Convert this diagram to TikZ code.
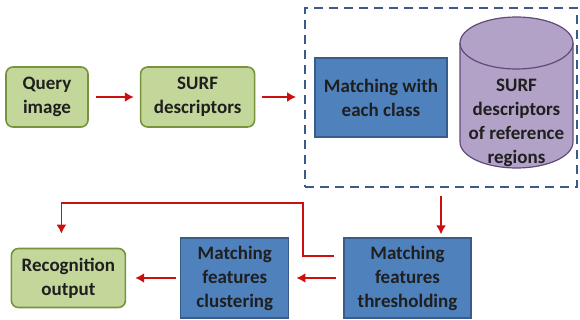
\documentclass[tikz,border=0pt]{standalone}
\usepackage{fontspec}
\setmainfont{Carlito}
\usepackage{tikz}
\usetikzlibrary{shapes,arrows,arrows.meta}
\usetikzlibrary{positioning}
\usetikzlibrary{calc}
\definecolor{mygreen}{RGB}{196,215,155}
\definecolor{mygreenline}{RGB}{119,147,60}
\definecolor{myblue}{RGB}{79,129,189}
\definecolor{mybluelne}{RGB}{56,93,138}
\definecolor{mypurple}{RGB}{179,162,199}
\definecolor{mypurpleline}{RGB}{96,74,123}
\definecolor{myred}{RGB}{204,16,16}
\definecolor{mydash}{RGB}{60,90,135}
\begin{document}
\begin{tikzpicture}[>={Latex[length=9pt,width=10pt]}, x=1pt, y=-1pt,
node distance= 54pt,
every node/.style={font=\fontsize{19}{24}\selectfont\bfseries, text=black!88},
greenbox/.style={
  rectangle, rounded corners=7pt,
  draw=mygreenline, line width=1.6pt,
  fill=mygreen,
  align=center},
bluebox/.style={
  rectangle,
  draw=mybluelne, line width=1.2pt,
  fill=myblue,
  align=center},
dbshape/.style={draw=mypurpleline, line width=1.2pt, fill=mypurple},
redarrow/.style={->, draw=myred, line width=2.6pt},
redline/.style={->, draw=myred, line width=1.8pt}
]
\useasboundingbox (0,0) rectangle (580,320);
\node[greenbox, minimum width=82pt, minimum height=60pt] (query) at (47,97) {Query\\image};
\node[greenbox, minimum width=114pt, minimum height=60pt, right=51pt of query] (surf) {SURF\\descriptors};
\node[bluebox, minimum width=132pt, minimum height=79pt] (match) at (381,97.5) {Matching with\\each class};
% reference database drawn as a cylinder
\coordinate (dbtop) at (460,43);
\coordinate (dbbot) at (460,142);
\draw[dbshape] (dbtop) -- (dbbot) arc[start angle=180, end angle=360, x radius=56.5pt, y radius=26pt]
  -- (573,43) arc[start angle=0, end angle=180, x radius=56.5pt, y radius=26pt] -- cycle;
\draw[dbshape, fill=none] (dbtop) arc[start angle=180, end angle=360, x radius=56.5pt, y radius=26pt];
\node[align=center] (dbtext) at (516.5,123) {SURF\\descriptors\\of reference\\regions};
\node[draw=mydash, dashed, dash pattern=on 9pt off 6pt, line width=1.8pt,
  minimum width=272pt, minimum height=179pt] (grp) at (441,97.5) {};
\node[bluebox, minimum width=127pt, minimum height=80pt, text width=120pt] (thresh) at (407.5,278) {Matching\\features\\thresholding};
\node[bluebox, minimum width=108pt, minimum height=80pt, text width=100pt, left=of thresh] (clust) {Matching\\features\\clustering};
\node[greenbox, minimum width=114pt, minimum height=59pt, left=of clust] (recog) {Recognition\\output};
\coordinate (elbow) at (303,203);
\draw [redarrow, shorten <=7pt, shorten >=6pt] (query) -- (surf);
\draw [redarrow, shorten <=7pt, shorten >=8pt] (surf.east) -- (surf.east -| grp.west);
\draw [redarrow, shorten <=8pt, shorten >=3pt] (grp.south) -- (grp.south |- thresh.north);
\draw [redarrow, shorten <=7pt, shorten >=7pt] (thresh) -- (clust);
\draw [redarrow, shorten <=4pt, shorten >=9pt] (clust) -- (recog);
\draw [redline, shorten <=9pt, shorten >=14pt] ([yshift=22pt]thresh.west) -| (elbow) -| ([xshift=-7pt]recog.north);
\end{tikzpicture}
\end{document}
